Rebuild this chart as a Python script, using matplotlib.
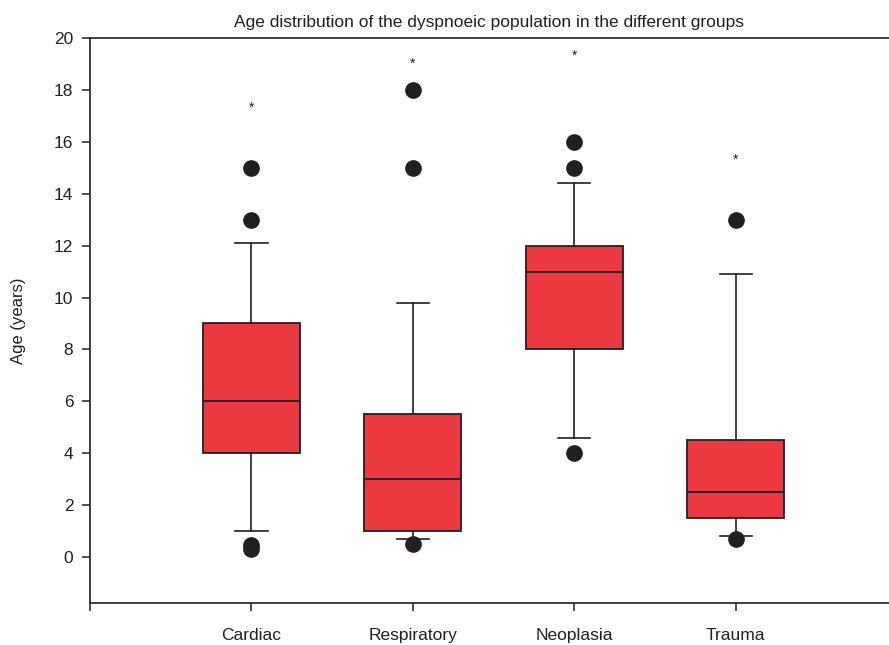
import matplotlib
matplotlib.use("Agg")
import matplotlib.pyplot as plt

plt.rcParams['font.family'] = ['Liberation Sans', 'DejaVu Sans']

# box statistics (years)
groups = ['Cardiac', 'Respiratory', 'Neoplasia', 'Trauma']
q1 = [4, 1, 8, 1.5]
med = [6, 3, 11, 2.5]
q3 = [9, 5.5, 12, 4.5]
whislo = [1.0, 0.7, 4.6, 0.8]
whishi = [12.1, 9.8, 14.4, 10.9]
outliers = [[15, 13, 0.3, 0.45], [18, 15, 0.5], [16, 15, 4], [13, 0.7]]
stars = [17.3, 19.0, 19.3, 15.3]

box_red = '#EC3841'
dark = '#231F20'

stats = []
for i in range(len(groups)):
    stats.append({'label': groups[i], 'q1': q1[i], 'med': med[i], 'q3': q3[i],
                  'whislo': whislo[i], 'whishi': whishi[i], 'fliers': outliers[i]})

fig = plt.figure(figsize=(8.89, 6.45), dpi=100)
ax = fig.add_axes([90/889, 1 - 603/645, 1 - 90/889, (603 - 38)/645])

pos = [1, 2, 3, 4]
ax.bxp(stats, positions=pos, widths=0.6, capwidths=0.2, patch_artist=True,
       boxprops=dict(facecolor=box_red, edgecolor=dark, linewidth=1.3),
       medianprops=dict(color=dark, linewidth=1.3),
       whiskerprops=dict(color=dark, linewidth=1.2),
       capprops=dict(color=dark, linewidth=1.2),
       flierprops=dict(marker='o', markerfacecolor=dark, markeredgecolor=dark,
                       markersize=11))

for p, s in zip(pos, stars):
    ax.text(p, s, '*', ha='center', va='center', fontsize=10, color=dark)

ax.set_xlim(0, 4.95)
ax.set_ylim(-1.77, 20)
ax.set_yticks(range(0, 21, 2))
ax.set_xticks([0] + pos)
ax.set_xticklabels([''] + groups)
ax.tick_params(axis='both', direction='out', length=6, width=1.1, color=dark,
               labelsize=12.5, labelcolor=dark, pad=6)
ax.tick_params(axis='x', pad=12)
ax.spines['right'].set_visible(False)
for sp in ['left', 'top', 'bottom']:
    ax.spines[sp].set_linewidth(1.2)
    ax.spines[sp].set_color(dark)

ax.set_ylabel('Age (years)', fontsize=12, color=dark, labelpad=20)
ax.set_title('Age distribution of the dyspnoeic population in the different groups',
             fontsize=12.5, color=dark, pad=8)

fig.savefig('out.png', dpi=100)
